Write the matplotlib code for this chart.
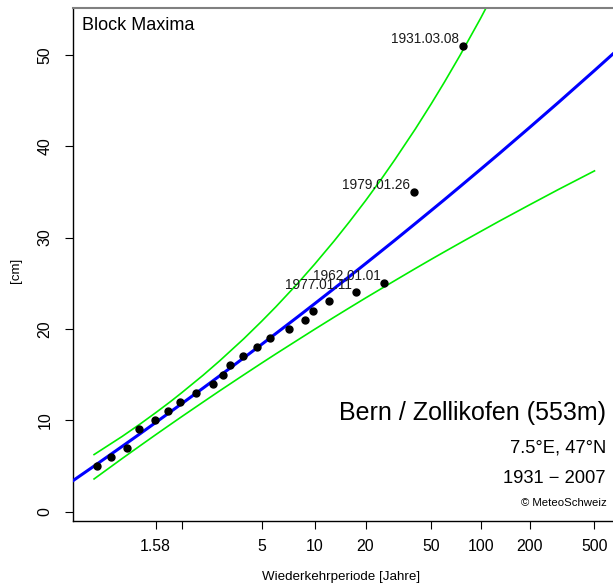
import numpy as np
import matplotlib
matplotlib.use("Agg")
import matplotlib.pyplot as plt

plt.rcParams['font.family'] = ['Liberation Sans', 'DejaVu Sans']

# ---- data ----
# observed block maxima: return period [years] and value [cm]
obs_T = [1.113, 1.179, 1.288, 1.388, 1.571, 1.762, 1.972, 2.32, 2.79, 3.12,
         3.40, 3.98, 4.73, 5.57, 7.13, 8.73, 9.83, 12.06, 17.5, 26.0, 39.0, 78.0]
obs_v = [5, 6, 7, 9, 10, 11, 12, 13, 14, 15,
         16, 17, 18, 19, 20, 21, 22, 23, 24, 25, 35, 51]

# labelled events
lab_T = [78.0, 39.0, 26.0, 17.5]
lab_v = [51, 35, 25, 24]
lab_txt = ["1931.03.08", "1979.01.26", "1962.01.01", "1977.01.11"]

# fitted return level curve (blue)
fit_T = [1.04, 1.1, 1.25, 1.4, 1.58, 1.8, 2, 2.5, 3, 4, 5, 6, 8, 10, 13, 16,
         20, 25, 30, 40, 50, 60, 75, 100, 130, 200, 300, 500, 700]
fit_v = [3.34, 4.98, 7.14, 8.51, 9.75, 10.93, 11.81, 13.53, 14.85, 16.83,
         18.31, 19.50, 21.34, 22.76, 24.42, 25.73, 27.14, 28.55, 29.70, 31.54,
         32.97, 34.14, 35.59, 37.47, 39.19, 42.06, 44.79, 48.29, 50.63]

# confidence band (green)
ci_T = [1.1, 1.25, 1.4, 1.58, 1.8, 2, 2.5, 3, 4, 5, 6, 8, 10, 13, 16,
        20, 25, 30, 40, 50, 60, 75, 100, 130, 200, 300, 500]
ci_up = [6.24, 8.23, 9.57, 10.82, 12.05, 13.01, 14.94, 16.49, 18.92, 20.84,
         22.43, 25.01, 27.09, 29.62, 31.71, 34.03, 36.45, 38.51, 41.89, 44.65,
         46.99, 49.97, 54.0, 57.88, 64.71, 72.5, 84.0]
ci_lo = [3.57, 5.81, 7.19, 8.41, 9.55, 10.39, 12.0, 13.21, 14.97, 16.26,
         17.27, 18.80, 19.96, 21.28, 22.30, 23.38, 24.43, 25.28, 26.61, 27.62,
         28.43, 29.41, 30.66, 31.79, 33.59, 35.26, 37.30]

xticks = [1.58, 2, 5, 10, 20, 50, 100, 200, 500]
xticklabels = ["1.58", "", "5", "10", "20", "50", "100", "200", "500"]
yticks = [0, 10, 20, 30, 40, 50]


def fwd(T):
    T = np.asarray(T, dtype=float)
    with np.errstate(all='ignore'):
        return -np.log(-np.log(1.0 - 1.0 / T))


def inv(y):
    y = np.asarray(y, dtype=float)
    with np.errstate(all='ignore'):
        return 1.0 / (1.0 - np.exp(-np.exp(-y)))


W, H = 613, 587
fig = plt.figure(figsize=(W / 100, H / 100), dpi=100)
ax = fig.add_axes([73.3 / W, 1 - 520.7 / H, (W - 73.3) / W, (520.7 - 8.3) / H])
ax.set_xscale('function', functions=(fwd, inv))

ax.plot(ci_T, ci_up, color='#00ee00', lw=1.2, zorder=2)
ax.plot(ci_T, ci_lo, color='#00ee00', lw=1.2, zorder=2)
ax.plot(fit_T, fit_v, color='#0000ff', lw=2.2, zorder=3)
ax.plot(obs_T, obs_v, 'o', color='black', ms=5.0, zorder=4)

for T, v, s in zip(lab_T, lab_v, lab_txt):
    ax.annotate(s, xy=(T, v), xytext=(-4, 3), textcoords='offset pixels',
                ha='right', va='baseline', fontsize=9.8, color='#1a1a1a')

ax.set_xlim(1.0417, 649.8)
ax.set_ylim(-1.0, 55.1)
ax.set_xticks(xticks)
ax.set_xticklabels(xticklabels)
ax.xaxis.set_minor_locator(matplotlib.ticker.NullLocator())
ax.set_yticks(yticks)
ax.set_yticklabels([str(v) for v in yticks], rotation=90, va='center')
ax.tick_params(axis='both', length=6, width=0.8, labelsize=11.4, color='black')
ax.tick_params(axis='x', pad=7)
ax.tick_params(axis='y', pad=9)

ax.spines['right'].set_visible(False)
ax.spines['top'].set_color('#808080')
ax.spines['top'].set_linewidth(1.5)
ax.spines['left'].set_linewidth(1.0)
ax.spines['bottom'].set_linewidth(1.0)

ax.text(0.0161, 0.9674, "Block Maxima", transform=ax.transAxes,
        ha='left', va='center', fontsize=13)
ax.text(0.987, 0.2096, "Bern / Zollikofen (553m)", transform=ax.transAxes,
        ha='right', va='center', fontsize=18)
ax.text(0.987, 0.1413, "7.5°E, 47°N", transform=ax.transAxes,
        ha='right', va='center', fontsize=13.2)
ax.text(0.987, 0.0814, "1931 \u2212 2007", transform=ax.transAxes,
        ha='right', va='center', fontsize=13.2)
ax.text(0.989, 0.034, "\u00a9 MeteoSchweiz", transform=ax.transAxes,
        ha='right', va='center', fontsize=8.2)

fig.text(341 / W, 1 - 577 / H, "Wiederkehrperiode [Jahre]", ha='center',
         va='center', fontsize=9.6)
fig.text(16 / W, 1 - 270 / H, "[cm]", ha='center', va='center',
         rotation=90, fontsize=9.6)

fig.savefig("out.png", dpi=100)
